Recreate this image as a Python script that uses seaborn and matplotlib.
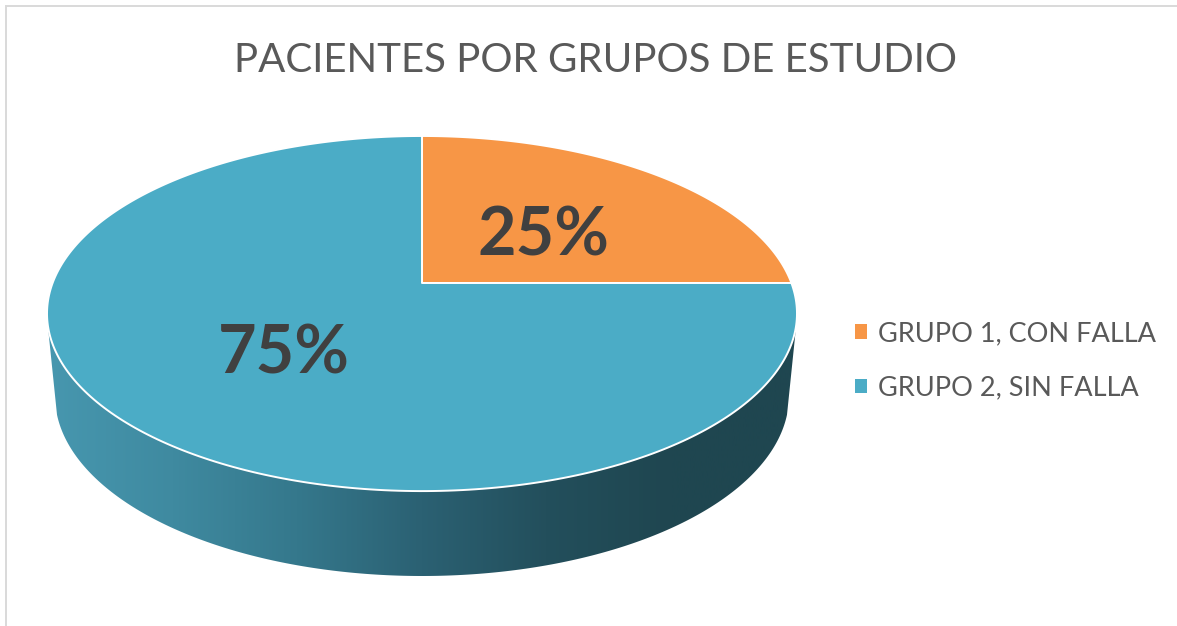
import numpy as np
import matplotlib
matplotlib.use('Agg')
import matplotlib.pyplot as plt
from matplotlib.patches import Polygon
import seaborn as sns

# datos
grupos = ['GRUPO 1, CON FALLA', 'GRUPO 2, SIN FALLA']
porcentajes = [25, 75]
colores = ['#F79646', '#4BACC6']
titulo = 'PACIENTES POR GRUPOS DE ESTUDIO'

sns.set_theme(style='white')
plt.rcParams['font.family'] = ['Lato', 'DejaVu Sans']

fig = plt.figure(figsize=(11.77, 6.26), dpi=100)
ax = fig.add_axes([0, 0, 1, 1])
ax.set_xlim(0, 1177)
ax.set_ylim(626, 0)
ax.axis('off')

# perspectiva del pastel: el centro cae en (422, 283)
CX, CY = 422, 283
A, B, K = 369.4, 172.3, 0.172


def plano(grados):
    t = np.radians(grados)
    X, Y = np.cos(t), np.sin(t)
    d = 1 + K * Y
    return CX + A * X / d, CY - B * Y / d


# cara lateral con degradado
t_base = np.radians(np.linspace(186, 354, 200))
x_base = 422 + 367 * np.cos(t_base)
y_base = 396 - 180 * np.sin(t_base)
ang_sup = np.linspace(-13, -167, 200)
x_sup, y_sup = plano(ang_sup)
lado = Polygon(np.vstack([np.column_stack([x_base, y_base]),
                          np.column_stack([x_sup, y_sup])]),
               closed=True, fc='none', ec='none')
ax.add_patch(lado)
cmap = sns.blend_palette(['#4797AF', '#3F8AA0', '#35788C', '#2B6173', '#234F5C', '#1F4650', '#1F4650'],
                         as_cmap=True)
grad = ax.imshow(np.linspace(0, 1, 256).reshape(1, -1), cmap=cmap, aspect='auto',
                 extent=(47, 796, 626, 0), zorder=1)
grad.set_clip_path(lado)
ax.set_xlim(0, 1177)
ax.set_ylim(626, 0)

# cara superior, angulos a partir de los valores
inicio = 90
cunas = []
for valor, color in zip(porcentajes, colores):
    fin = inicio - valor * 3.6
    th = np.linspace(inicio, fin, 300)
    xs, ys = plano(th)
    pts = np.vstack([[CX, CY], np.column_stack([xs, ys])])
    p = Polygon(pts, closed=True, fc=color, ec='white', lw=1.4, joinstyle='round', zorder=2)
    ax.add_patch(p)
    cunas.append(p)
    inicio = fin

# etiquetas de porcentaje
pos_etq = [(544, 236), (284, 355)]
for valor, (xe, ye) in zip(porcentajes, pos_etq):
    ax.text(xe, ye, f'{valor}%', ha='center', va='center', fontsize=48,
            fontweight='bold', color='#404040', zorder=3)

ax.text(595, 60, titulo, ha='center', va='center', fontsize=29, color='#595959')

# marco
ax.plot([6, 6, 1177], [626, 6, 6], color='#D9D9D9', lw=1.4, solid_joinstyle='miter', zorder=0)

# leyenda
ax.legend(handles=cunas, labels=grupos, loc='center left', bbox_to_anchor=(855 / 1177, 1 - 361 / 626),
          frameon=False, fontsize=19.5, labelcolor='#595959', handlelength=0.44, handleheight=0.44,
          handletextpad=0.41, labelspacing=1.09, borderpad=0, borderaxespad=0)
for h in ax.get_legend().legend_handles:
    h.set_edgecolor('none')

fig.savefig('out.png', dpi=100)
